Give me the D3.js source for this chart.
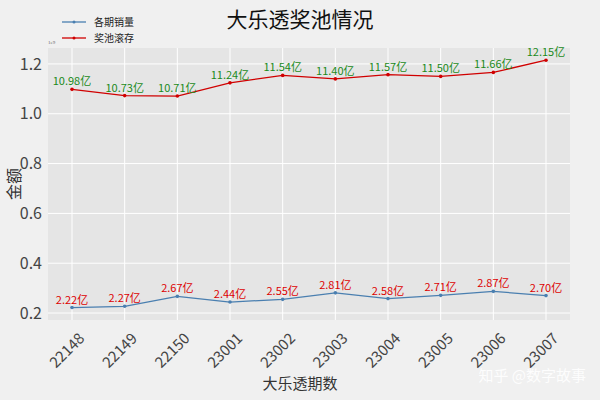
<!DOCTYPE html><html><head><meta charset="utf-8"><script src="https://cdn.jsdelivr.net/npm/d3@7"></script>
<style>body{margin:0;background:#f0f0f0}</style></head><body><svg id="c" width="600" height="400"></svg><script>
const periods=["22148","22149","22150","23001","23002","23003","23004","23005","23006","23007"];
const sales=[2.22,2.27,2.67,2.44,2.55,2.81,2.58,2.71,2.87,2.70];
const pool=[10.98,10.73,10.71,11.24,11.54,11.40,11.57,11.50,11.66,12.15];
const yTicks=[0.2,0.4,0.6,0.8,1.0,1.2];
const F='"Noto Sans CJK SC",sans-serif';
const svg=d3.select("#c");
svg.append("rect").attr("width",600).attr("height",400).attr("fill","#f0f0f0");
const L=48,R=570,T=48,B=320;
const x=d3.scalePoint().domain(periods).range([72,546]);
const y=d3.scaleLinear().domain([0.172,1.264]).range([B,T]);
svg.append("rect").attr("x",L).attr("y",T).attr("width",R-L).attr("height",B-T).attr("fill","#e5e5e5");
const g=svg.append("g");
periods.forEach(p=>g.append("line").attr("x1",x(p)).attr("x2",x(p)).attr("y1",T).attr("y2",B).attr("stroke","#fff").attr("stroke-width",1));
yTicks.forEach(t=>{g.append("line").attr("x1",L).attr("x2",R).attr("y1",y(t)).attr("y2",y(t)).attr("stroke","#fff");
 svg.append("text").attr("x",L-6).attr("y",y(t)).attr("dy","0.35em").attr("text-anchor","end").attr("font-size",16).attr("fill","#444").attr("font-family",F).text(t.toFixed(1));});
periods.forEach(p=>svg.append("text").attr("transform",`translate(${x(p)+6},${B+12}) rotate(-45)`).attr("text-anchor","end").attr("dy","0.7em").attr("font-size",15).attr("fill","#444").attr("font-family",F).text(p));
svg.append("text").attr("x",L).attr("y",T-4).attr("font-size",5).attr("fill","#666").text("1e9");
const line=d3.line().x((d,i)=>x(periods[i])).y(d=>y(d/10));
function series(data,col,lab){
 svg.append("path").attr("d",line(data)).attr("fill","none").attr("stroke",col).attr("stroke-width",1.3);
 data.forEach((d,i)=>{svg.append("circle").attr("cx",x(periods[i])).attr("cy",y(d/10)).attr("r",1.8).attr("fill",col);
  svg.append("text").attr("x",x(periods[i])).attr("y",y(d/10)-4).attr("text-anchor","middle").attr("font-size",11).attr("fill",lab).attr("font-family",F).text(d.toFixed(2)+"亿");});
}
series(sales,"#4a7fb0","#dd0000");
series(pool,"#d00000","#1a8a1a");
svg.append("text").attr("x",300).attr("y",27).attr("text-anchor","middle").attr("font-size",21).attr("fill","#111").attr("font-family",F).text("大乐透奖池情况");
svg.append("text").attr("x",300).attr("y",389).attr("text-anchor","middle").attr("font-size",15).attr("fill","#333").attr("font-family",F).text("大乐透期数");
svg.append("text").attr("transform","translate(20,184) rotate(-90)").attr("text-anchor","middle").attr("font-size",16).attr("fill","#333").attr("font-family",F).text("金额");
[["各期销量","#4a7fb0",22],["奖池滚存","#d00000",38]].forEach(([t,c,yy])=>{
 svg.append("line").attr("x1",62).attr("x2",86).attr("y1",yy).attr("y2",yy).attr("stroke",c).attr("stroke-width",1.3);
 svg.append("circle").attr("cx",74).attr("cy",yy).attr("r",1.5).attr("fill",c);
 svg.append("text").attr("x",94).attr("y",yy).attr("dy","0.35em").attr("font-size",10).attr("fill","#222").attr("font-family",F).text(t);});
svg.append("text").attr("x",586).attr("y",381).attr("text-anchor","end").attr("font-size",15).attr("fill","#fff").attr("opacity",0.9).attr("font-family",F).text("知乎 @数字故事");
</script></body></html>
